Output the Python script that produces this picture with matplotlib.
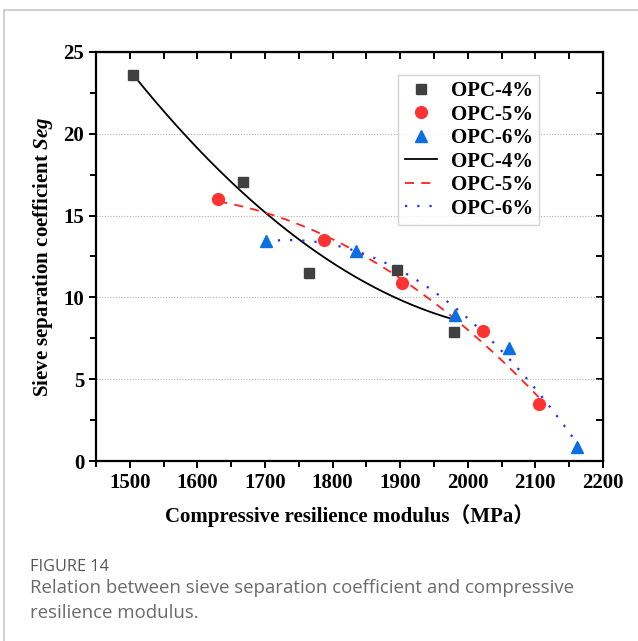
import numpy as np
import matplotlib
matplotlib.use('Agg')
import matplotlib.pyplot as plt
from matplotlib.patches import Rectangle
from matplotlib.ticker import MultipleLocator

plt.rcParams['font.family'] = ['Liberation Serif', 'Noto Sans CJK SC']
plt.rcParams['mathtext.fontset'] = 'custom'
plt.rcParams['mathtext.it'] = 'Liberation Serif:italic:bold'

# datos
x4 = [1505, 1667, 1765, 1896, 1979]
y4 = [23.6, 17.05, 11.48, 11.68, 7.87]
x5 = [1631, 1788, 1903, 2023, 2105]
y5 = [16.0, 13.5, 10.9, 7.95, 3.47]
x6 = [1701, 1835, 1981, 2061, 2162]
y6 = [13.45, 12.85, 8.9, 6.9, 0.85]
series = ['OPC-4%', 'OPC-5%', 'OPC-6%']

fig = plt.figure(figsize=(6.38, 6.41), dpi=100)
# marco gris de la tarjeta
fig.patches.append(Rectangle((4, -20), 700, 651, transform=None, fill=False,
                             edgecolor='#c8c8c8', lw=1.2))
ax = fig.add_axes([0.1505, 0.2808, 0.7945, 0.6382])

ax.plot(x4, y4, 's', color='#404040', ms=7.5, label=series[0], zorder=3)
ax.plot(x5, y5, 'o', color='#ff3333', ms=8.5, label=series[1], zorder=3)
ax.plot(x6, y6, '^', color='#0a6fe0', ms=8.5, label=series[2], zorder=3)

# ajustes cuadraticos
estilos = [('-', 'black', 1.3), ((0, (5, 4)), '#ff2020', 1.3), ((0, (1, 4.5)), '#2a2aff', 1.6)]
for (xs, ys), (ls, c, lw), nom in zip([(x4, y4), (x5, y5), (x6, y6)], estilos, series):
    p = np.polyfit(xs, ys, 2)
    xx = np.linspace(min(xs), max(xs), 200)
    ax.plot(xx, np.polyval(p, xx), linestyle=ls, color=c, lw=lw, label=nom, zorder=2)

ax.set_xlim(1450, 2200)
ax.set_ylim(0, 25)
ax.xaxis.set_major_locator(MultipleLocator(100))
ax.xaxis.set_minor_locator(MultipleLocator(50))
ax.yaxis.set_major_locator(MultipleLocator(5))
ax.yaxis.set_minor_locator(MultipleLocator(2.5))
for y in [5, 10, 15, 20]:
    ax.axhline(y, color='#b0b0b0', lw=0.8, ls=(0, (1, 1.5)), zorder=1)
for s in ax.spines.values():
    s.set_linewidth(1.6)
ax.tick_params(which='both', direction='out', width=1.4, labelsize=15)
ax.tick_params(which='major', length=5)
ax.tick_params(which='minor', length=4)
# ticks hacia dentro arriba y a la derecha
ax2 = ax.secondary_xaxis('top')
ax2.xaxis.set_major_locator(MultipleLocator(100))
ax2.xaxis.set_minor_locator(MultipleLocator(50))
ax2.tick_params(which='both', direction='in', width=1.4, labeltop=False, length=5)
ax3 = ax.secondary_yaxis('right')
ax3.yaxis.set_major_locator(MultipleLocator(5))
ax3.yaxis.set_minor_locator(MultipleLocator(2.5))
ax3.tick_params(which='both', direction='in', width=1.4, labelright=False, length=5)
for t in ax.get_xticklabels() + ax.get_yticklabels():
    t.set_fontweight('bold')

ax.set_xlabel('Compressive resilience modulus（MPa）', fontsize=15, fontweight='bold', labelpad=8)
ax.set_ylabel('Sieve separation coefficient $Seg$', fontsize=15, fontweight='bold', labelpad=6)

leg = ax.legend(loc='upper right', bbox_to_anchor=(0.874, 0.944), borderaxespad=0,
                prop={'weight': 'bold', 'size': 15},
                fancybox=False, edgecolor='#c8c8c8', handlelength=1.55, labelspacing=0.17,
                borderpad=0.3, handletextpad=0.65)
leg.get_frame().set_linewidth(1.0)

fig.text(30 / 638, 1 - 567 / 641, 'FIGURE 14', fontsize=11.7, color='#555555',
         family='Open Sans', va='center')
fig.text(30 / 638, 1 - 588 / 641, 'Relation between sieve separation coefficient and compressive',
         fontsize=13.4, color='#6a6a6a', family='Open Sans', va='center')
fig.text(30 / 638, 1 - 613 / 641, 'resilience modulus.', fontsize=13.4, color='#6a6a6a',
         family='Open Sans', va='center')

fig.savefig('out.png', dpi=100)
